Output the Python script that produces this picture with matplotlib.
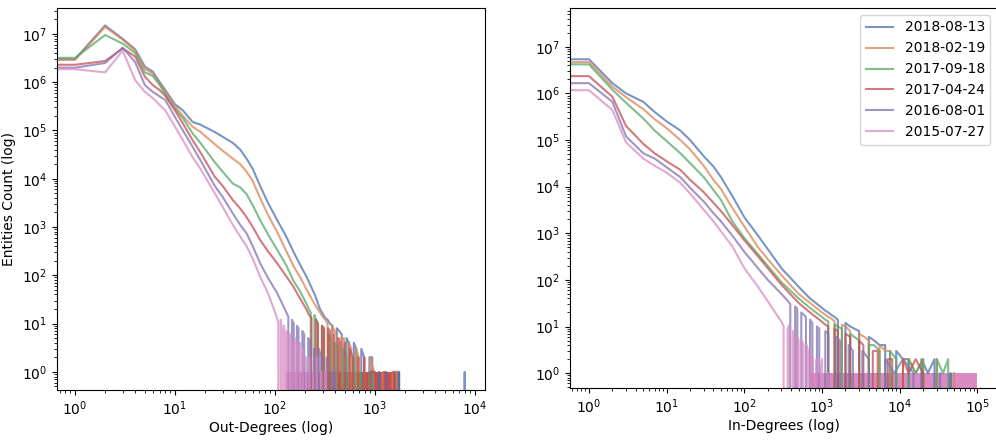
import numpy as np
import matplotlib.pyplot as plt

# snapshot dates and colours (seaborn "deep")
labels = ["2018-08-13", "2018-02-19", "2017-09-18", "2017-04-24", "2016-08-01", "2015-07-27"]
colors = ["#4C72B0", "#DD8452", "#55A868", "#C44E52", "#8172B3", "#DA8BC3"]
nan = np.nan

# ---- out-degree distribution: smooth part ----
out_deg = [0, 1, 2, 3, 4, 5, 6, 7, 8, 10, 12, 15, 18, 25, 30, 38, 45, 52, 60, 71,
           85, 105, 130, 152, 180, 208, 250, 282]
out_counts = [
    [3.0e6, 3.0e6, 1.5e7, 7.9e6, 4.8e6, 2.1e6, 1.66e6, 1.02e6, 6.9e5, 3.5e5, 2.6e5, 1.5e5,
     1.32e5, 9.3e4, 7.4e4, 5.5e4, 4.0e4, 2.6e4, 1.6e4, 7.1e3, 3.2e3, 1.4e3, 630, 316,
     160, 91, 40, 20],
    [2.9e6, 2.9e6, 1.4e7, 7.6e6, 4.5e6, 1.9e6, 1.5e6, 9.5e5, 6.3e5, 3.2e5, 2.0e5, 1.2e5,
     9.3e4, 5.2e4, 3.8e4, 2.6e4, 2.0e4, 1.4e4, 8.9e3, 4.0e3, 1.8e3, 790, 316, 160,
     89, 50, 25, 17],
    [3.2e6, 3.2e6, 9.5e6, 6.3e6, 4.0e6, 1.6e6, 1.35e6, 8.9e5, 5.6e5, 2.8e5, 1.8e5, 8.7e4,
     5.5e4, 2.2e4, 1.4e4, 7.9e3, 6.6e3, 4.8e3, 2.8e3, 1.4e3, 710, 340, 160, 79,
     45, 25, nan, nan],
    [2.3e6, 2.3e6, 2.75e6, 5.0e6, 3.4e6, 1.3e6, 8.7e5, 6.9e5, 5.2e5, 2.6e5, 1.4e5, 6.3e4,
     3.5e4, 1.1e4, 7.1e3, 3.6e3, 2.4e3, 1.6e3, 1.0e3, 540, 316, 178, 95, 59,
     32, 19, nan, nan],
    [2.0e6, 2.0e6, 2.5e6, 5.2e6, 2.6e6, 8.7e5, 6.3e5, 5.1e5, 4.3e5, 1.9e5, 1.0e5, 4.6e4,
     2.4e4, 7.1e3, 4.2e3, 1.9e3, 1.1e3, 740, 400, 178, 89, 43, 17, nan,
     nan, nan, nan, nan],
    [1.86e6, 1.86e6, 1.6e6, 4.5e6, 1.1e6, 6.3e5, 4.7e5, 3.4e5, 2.6e5, 1.2e5, 6.3e4, 2.8e4,
     1.6e4, 5.0e3, 2.6e3, 1.1e3, 630, 400, 220, 93, 43, 13, nan, nan,
     nan, nan, nan, nan],
]
# noisy tails (0 = no entity with that degree)
out_tail_deg = [
    [300, 318, 336, 355, 375, 395, 415, 440, 465, 490, 520, 550, 580, 615, 650, 690, 730,
     780, 830, 880, 940, 1000, 1100, 1200, 1300, 1450, 1600, 1750, 1800, 7850, 7900, 7950],
    [300, 318, 336, 355, 375, 395, 415, 440, 465, 490, 520, 550, 580, 615, 650, 690, 730,
     780, 830, 900, 980, 1080, 1200, 1350, 1500, 1650, 1700],
    [218, 228, 238, 248, 258, 270, 282, 295, 310, 325, 340, 360, 380, 400, 425, 450, 480,
     520, 560, 610, 660, 720, 800, 880, 960, 1000],
    [220, 232, 244, 256, 268, 280, 295, 310, 325, 340, 355, 370, 390, 410, 430, 450, 475,
     500, 530, 560, 600, 640, 680, 730, 780, 840, 900, 1000, 1100, 1250, 1400, 1550, 1700],
    [136, 142, 148, 154, 160, 166, 172, 180, 188, 196, 205, 215, 225, 236, 248, 260, 275,
     290, 310, 330, 350, 375, 400, 420],
    [108, 111, 114, 117, 120, 123, 126, 129, 132, 136, 140, 144, 148, 152, 157, 162, 167,
     172, 178, 184, 190, 197, 204, 212, 220, 230, 240, 250, 262, 275, 290, 305, 320, 325],
]
out_tail_cnt = [
    [16, 13, 12, 10, 9, 0, 8, 7, 6, 0, 5, 4, 0, 4, 3, 0, 3,
     2, 0, 2, 2, 0, 1, 0, 1, 0, 1, 1, 0, 0, 1, 0],
    [14, 12, 10, 0, 9, 7, 6, 0, 5, 5, 0, 4, 3, 0, 3, 2, 0,
     2, 0, 2, 1, 0, 1, 0, 1, 1, 0],
    [20, 17, 0, 15, 12, 10, 0, 9, 7, 0, 6, 5, 0, 4, 3, 0, 3,
     2, 0, 2, 0, 1, 0, 1, 1, 0],
    [15, 13, 0, 12, 10, 0, 9, 8, 0, 8, 7, 0, 6, 0, 5, 4, 0,
     4, 0, 3, 2, 0, 2, 0, 2, 0, 1, 1, 0, 1, 0, 1, 0],
    [14, 0, 12, 10, 0, 9, 8, 0, 7, 6, 0, 5, 4, 0, 3, 0, 3,
     2, 0, 2, 0, 1, 1, 0],
    [10, 0, 12, 8, 0, 9, 6, 0, 7, 0, 5, 6, 0, 4, 0, 5, 3,
     0, 4, 0, 3, 0, 2, 0, 2, 0, 1, 0, 2, 0, 1, 0, 1, 0],
]
# degree ranges where the count keeps flipping between 0 and 1
out_bands = [(1000, 1800), (700, 1700), (400, 1000), (300, 1700), (200, 420), (130, 320)]

# ---- in-degree distribution ----
in_deg = [0, 1, 2, 3, 5, 7, 10, 15, 20, 30, 40, 50, 70, 100, 150, 200, 300, 500, 700, 1000]
in_counts = [
    [5.4e6, 5.4e6, 1.66e6, 1.0e6, 6.6e5, 4.0e5, 2.5e5, 1.6e5, 1.0e5, 4.5e4, 2.7e4, 1.6e4,
     6.3e3, 2.2e3, 890, 457, 178, 71, 40, 25],
    [4.7e6, 4.7e6, 1.4e6, 8.3e5, 4.6e5, 2.8e5, 1.8e5, 1.0e5, 6.3e4, 2.8e4, 1.4e4, 8.9e3,
     3.5e3, 1.4e3, 500, 280, 126, 50, 32, 20],
    [4.2e6, 4.2e6, 1.2e6, 6.3e5, 2.9e5, 1.6e5, 9.5e4, 5.2e4, 3.2e4, 1.6e4, 8.5e3, 5.2e3,
     1.8e3, 790, 355, 200, 89, 40, 25, 16],
    [2.35e6, 2.35e6, 8.5e5, 2.0e5, 8.3e4, 5.2e4, 3.5e4, 2.3e4, 1.4e4, 7.6e3, 4.5e3, 3.0e3,
     1.5e3, 710, 320, 178, 79, 32, 20, 12.6],
    [1.66e6, 1.66e6, 6.6e5, 1.2e5, 5.2e4, 4.0e4, 2.6e4, 1.6e4, 9.5e3, 4.8e3, 2.7e3, 1.8e3,
     890, 400, 178, 100, 50, nan, nan, nan],
    [1.17e6, 1.17e6, 4.4e5, 8.9e4, 4.0e4, 2.8e4, 2.0e4, 1.2e4, 7.1e3, 3.2e3, 1.8e3, 1.1e3,
     525, 178, 71, 35, 12.6, nan, nan, nan],
]
in_tail_deg = [
    [1100, 1200, 1300, 1450, 1600, 1800, 2000, 2300, 2600, 3000, 3500, 4000, 4700, 5500,
     6500, 7500, 9000, 11000, 13000, 16000, 19000, 23000, 28000, 35000, 45000, 60000],
    [1100, 1200, 1300, 1450, 1600, 1800, 2000, 2300, 2600, 3000, 3500, 4000, 4700, 5500,
     6500, 7500, 9000, 11000, 13000, 16000, 20000, 25000, 30000, 35000, 50000],
    [1100, 1200, 1300, 1450, 1600, 1800, 2000, 2300, 2600, 3000, 3500, 4000, 4700, 5500,
     6500, 7500, 9000, 11000, 13000, 16000, 20000, 25000, 30000, 36000, 42000, 45000],
    [1100, 1200, 1300, 1450, 1600, 1800, 2000, 2300, 2600, 3000, 3400, 3900, 4500, 5200,
     6000, 7000, 8000, 9500, 11000, 13000, 16000, 20000, 22000],
    [330, 360, 390, 420, 450, 480, 510, 540, 580, 620, 660, 700, 750, 800, 860, 920, 1000,
     1100, 1200, 1350, 1500, 1700, 1900, 2200, 2500, 2900, 3300, 4000, 5000, 6500, 8500,
     11000, 15000, 20000, 33000, 33500],
    [320, 340, 360, 380, 400, 420, 440, 460, 480, 500, 525, 550, 575, 600, 630, 660, 690,
     720, 760, 800, 850, 900, 950, 1000, 1100, 1200],
]
in_tail_cnt = [
    [22, 20, 18, 16, 14, 0, 12, 10, 9, 8, 0, 6, 5, 4,
     4, 0, 3, 2, 2, 0, 2, 1, 2, 0, 1, 0],
    [18, 16, 15, 13, 0, 11, 10, 8, 0, 7, 6, 5, 0, 4,
     3, 3, 0, 2, 2, 1, 2, 0, 2, 0, 1],
    [14, 13, 0, 11, 10, 9, 0, 7, 6, 5, 0, 4, 4, 3,
     0, 3, 2, 0, 2, 1, 2, 0, 2, 1, 2, 0],
    [11, 10, 0, 9, 8, 0, 7, 6, 0, 5, 4, 0, 3, 3,
     0, 2, 2, 0, 2, 1, 2, 1, 0],
    [42, 36, 30, 0, 27, 24, 0, 20, 18, 16, 0, 14, 12, 0, 10, 9, 0,
     8, 7, 0, 6, 5, 0, 4, 3, 0, 3, 2, 0, 2, 1,
     2, 1, 0, 1, 0],
    [10, 0, 9, 11, 0, 8, 7, 0, 6, 5, 0, 5, 4, 0, 4, 3, 0,
     3, 2, 0, 2, 0, 1, 2, 0, 1],
]
in_bands = [(6000, 60000), (5000, 50000), (4000, 45000), (3000, 22000), (1500, 33000),
            (700, 100000)]


def draw(ax, deg, counts, tail_deg, tail_cnt, bands):
    # zero counts sit below the log axis, so the 0/1 bands reach down to its floor
    floor = ax.get_ylim()[0]
    deg = np.array(deg, dtype=float)
    for i in range(len(labels)):
        c = np.array(counts[i], dtype=float)
        keep = ~np.isnan(c)
        x = np.concatenate([deg[keep], tail_deg[i]])
        y = np.concatenate([c[keep], tail_cnt[i]])
        ax.plot(x, y, color=colors[i], lw=1.5, alpha=0.75, label=labels[i])
        ax.fill_between(bands[i], 1, floor, color=colors[i], alpha=1.0, lw=0)


fig = plt.figure(figsize=(9.96, 4.44), dpi=100)
ax1 = fig.add_axes([0.0572, 0.1216, 0.4297, 0.8604])
ax2 = fig.add_axes([0.5723, 0.1261, 0.4290, 0.8559])

for ax in (ax1, ax2):
    ax.set_xscale('log')
    ax.set_yscale('log')

ax1.set_xlim(0.66, 12600)
ax1.set_ylim(0.42, 3.45e7)
draw(ax1, out_deg, out_counts, out_tail_deg, out_tail_cnt, out_bands)
ax1.set_xlabel('Out-Degrees (log)', labelpad=2)
ax1.set_ylabel('Entities Count (log)')

ax2.set_xlim(0.57, 1.8e5)
ax2.set_ylim(0.48, 6.8e7)
draw(ax2, in_deg, in_counts, in_tail_deg, in_tail_cnt, in_bands)
ax2.set_xlabel('In-Degrees (log)', labelpad=2)
ax2.legend(loc='upper right')

# keep the limits fixed after the fills
ax1.set_xlim(0.66, 12600)
ax1.set_ylim(0.42, 3.45e7)
ax2.set_xlim(0.57, 1.8e5)
ax2.set_ylim(0.48, 6.8e7)

fig.savefig('out.png', dpi=100)
